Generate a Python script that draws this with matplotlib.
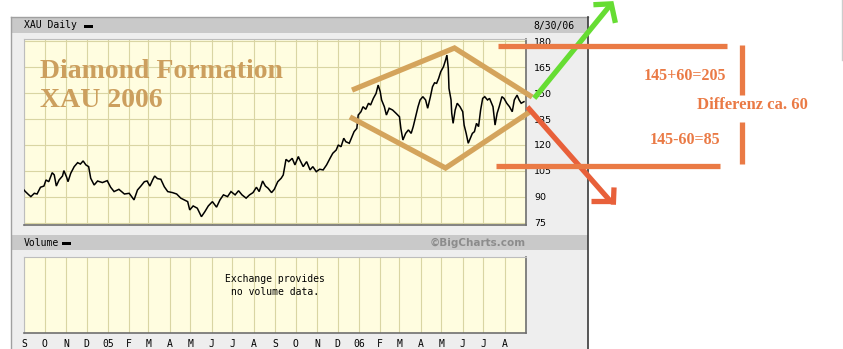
import numpy as np
import matplotlib
matplotlib.use("Agg")
import matplotlib.pyplot as plt
import matplotlib.dates as mdates

W, H = 843, 349

# XAU daily close: calendar days after 2004-09-01 and closing level
START = "2004-09-01"
days = [
    0, 2, 7, 10, 15, 19, 24, 29, 32, 36, 41, 44, 47, 51, 56, 58, 62, 64, 68, 73,
    78, 82, 86, 90, 94, 97, 102, 107, 114, 121, 126, 131, 138, 146, 153, 160,
    165, 170, 175, 179, 183, 187, 190, 194, 199, 204, 209, 216, 222, 228, 233,
    238, 241, 246, 252, 258, 263, 268, 274, 280, 285, 290, 296, 301, 307, 312,
    317, 323, 328, 333, 338, 342, 347, 351, 355, 360, 364, 369, 374, 377, 381,
    385, 390, 394, 399, 400, 406, 411, 416, 420, 425, 430, 435, 440, 445, 449,
    454, 457, 461, 465, 468, 473, 477, 480, 484, 486, 490, 493, 497, 501, 504,
    508, 512, 515, 518, 520, 524, 527, 531, 536, 541, 546, 548, 551, 555, 559,
    563, 566, 570, 573, 576, 580, 584, 587, 591, 594, 597, 600, 603, 606, 610,
    613, 615, 617, 618, 621, 622, 624, 627, 630, 634, 638, 640, 643, 646, 649,
    652, 655, 658, 661, 664, 667, 670, 674, 677, 682, 685, 688, 691, 695, 698,
    702, 706, 710, 713, 717, 720, 723, 727,
]
close = [
    94.0, 93.1, 91.2, 90.2, 92.1, 91.7, 95.6, 96.3, 99.8, 98.8, 104.0, 102.7,
    96.3, 99.8, 102.1, 105.2, 101.4, 98.8, 103.7, 107.5, 109.8, 109.0, 110.8,
    108.5, 107.5, 100.8, 96.9, 99.2, 98.3, 99.4, 95.6, 93.1, 94.4, 91.7, 92.1,
    88.3, 94.0, 96.3, 98.8, 99.2, 96.3, 99.8, 102.1, 100.6, 100.2, 95.9, 93.1,
    92.5, 91.7, 89.3, 88.3, 87.3, 82.5, 84.8, 83.5, 78.6, 81.5, 84.8, 87.3,
    84.1, 88.3, 91.2, 90.2, 93.1, 91.2, 93.6, 91.2, 89.3, 91.2, 92.5, 95.6,
    93.1, 99.2, 96.3, 95.0, 92.5, 94.4, 98.8, 100.8, 102.7, 111.7, 110.4,
    112.3, 108.5, 113.3, 112.3, 107.5, 110.4, 105.6, 107.5, 104.6, 106.0,
    105.6, 108.5, 112.3, 115.2, 117.1, 120.0, 119.0, 123.9, 121.9, 121.0,
    124.8, 127.7, 129.6, 137.3, 139.2, 142.1, 140.6, 144.1, 143.1, 146.9,
    149.8, 154.6, 150.8, 146.0, 142.1, 137.3, 141.2, 140.2, 138.3, 136.3,
    129.6, 122.9, 126.7, 128.7, 126.7, 130.6, 137.3, 142.1, 146.0, 147.9,
    146.0, 141.2, 147.9, 153.6, 155.9, 155.6, 158.5, 162.3, 165.2, 169.0,
    171.9, 164.2, 152.7, 146.0, 138.3, 132.5, 140.2, 144.1, 142.1, 139.2,
    131.5, 126.7, 121.0, 123.9, 126.7, 127.7, 132.5, 130.6, 140.2, 146.9,
    147.9, 146.0, 146.9, 142.1, 131.5, 138.3, 142.1, 147.9, 146.9, 144.1,
    142.1, 139.2, 146.0, 148.8, 146.0, 144.1, 145.0,
]

price_ticks = [75, 90, 105, 120, 135, 150, 165, 180]
month_labels = ["S", "O", "N", "D", "05", "F", "M", "A", "M", "J", "J", "A",
                "S", "O", "N", "D", "06", "F", "M", "A", "M", "J", "J", "A"]

# hand-drawn diamond pattern and breakout targets (date, price)
diamond_upper = [("2005-12-22", 151.7), ("2006-05-20", 176.0), ("2006-09-10", 147.7)]
diamond_lower = [("2005-12-19", 136.2), ("2006-05-07", 106.7), ("2006-09-06", 139.0)]
up_shaft = [("2006-09-13", 147.0), ("2007-01-02", 201.0)]
up_head = [("2006-12-08", 201.0), ("2007-01-03", 201.5), ("2007-01-09", 190.5)]
down_shaft = [("2006-09-03", 142.0), ("2007-01-03", 87.0)]
down_head_h = [("2006-12-05", 87.5), ("2007-01-05", 87.5)]
down_head_v = [("2007-01-07", 95.5), ("2007-01-06", 85.5)]
level_hi = [("2006-07-23", 177.1), ("2007-06-20", 177.1)]
level_lo = [("2006-07-20", 107.9), ("2007-06-10", 107.9)]
bracket_hi = [("2007-07-12", 177.7), ("2007-07-12", 148.8)]
bracket_lo = [("2007-07-12", 133.3), ("2007-07-12", 109.0)]

PANEL = "#eeeeee"
BAR = "#c9c9c9"
PLOT_BG = "#fffde0"
GRID = "#d9d5a3"
TAN = "#d4a45c"
TITLE_TAN = "#cc9f5e"
ORANGE = "#ea7a45"
RED_ORANGE = "#e8603a"
GREEN = "#66dd33"
MONO = "DejaVu Sans Mono"


def px_axes(fig, x0, y0, x1, y1):
    """Axes placed by pixel box (top-left origin)."""
    return fig.add_axes([x0 / W, 1 - y1 / H, (x1 - x0) / W, (y1 - y0) / H])


def to_xy(pts):
    xs = [mdates.datestr2num(d) for d, _ in pts]
    ys = [v for _, v in pts]
    return xs, ys


fig = plt.figure(figsize=(W / 100, H / 100), dpi=100)
fig.patch.set_facecolor("white")

# page furniture: gray frame, header bar, volume bar
bg = fig.add_axes([0, 0, 1, 1], zorder=0)
bg.set_xlim(0, W)
bg.set_ylim(H, 0)
bg.axis("off")
bg.add_patch(plt.Rectangle((11, 17), 577, 340, facecolor=PANEL, edgecolor="none"))
bg.add_patch(plt.Rectangle((11, 17), 577, 16, facecolor=BAR, edgecolor="none"))
bg.add_patch(plt.Rectangle((11, 235), 577, 15, facecolor=BAR, edgecolor="none"))
bg.plot([11, 11], [17, H], color="#a0a0a0", lw=1)
bg.plot([11, 588], [17, 17], color="#a0a0a0", lw=1)
bg.plot([588, 588], [17, H], color="#3a3a3a", lw=1.2)
bg.plot([842, 842], [0, 60], color="#cccccc", lw=1)
bg.text(24, 25.5, "XAU Daily", family=MONO, fontsize=7, va="center", ha="left")
bg.add_patch(plt.Rectangle((84, 25), 9, 2.5, facecolor="black"))
bg.text(575, 25.5, "8/30/06", family=MONO, fontsize=7, va="center", ha="right")
bg.text(24, 243, "Volume", family=MONO, fontsize=7, va="center", ha="left")
bg.add_patch(plt.Rectangle((62, 242), 9, 2.5, facecolor="black"))
bg.text(526, 242.5, "©BigCharts.com", fontsize=7.5, fontweight="bold",
        color="#8c8c8c", va="center", ha="right")

x_lo = mdates.datestr2num("2004-09-01")
x_hi = mdates.datestr2num("2006-09-01")
month_locator = mdates.MonthLocator()
trade_x = mdates.datestr2num(START) + np.array(days, dtype=float)

# price panel
ax = px_axes(fig, 24, 39, 526, 225)
ax.set_zorder(1)
ax.set_facecolor(PLOT_BG)
ax.plot(trade_x, close, color="black", lw=1.1, zorder=3,
        solid_joinstyle="miter")
ax.set_xlim(x_lo, x_hi)
ax.set_ylim(73.8, 181.2)
ax.xaxis.set_major_locator(month_locator)
ax.set_yticks(price_ticks)
ax.grid(True, color=GRID, lw=0.8)
ax.tick_params(axis="x", length=0, labelbottom=False)
ax.tick_params(axis="y", length=0, left=False, labelleft=False,
               labelright=True, pad=6, labelsize=6.8)
for lab in ax.get_yticklabels():
    lab.set_horizontalalignment("left")
for side in ["top", "left"]:
    ax.spines[side].set_color("#bdbdbd")
for side in ["bottom", "right"]:
    ax.spines[side].set_color("#6f6f6f")
    ax.spines[side].set_linewidth(1.2)

ax.text(0.032, 0.823, "Diamond Formation", transform=ax.transAxes,
        family="Liberation Serif", fontweight="bold", fontsize=20,
        color=TITLE_TAN, va="center", ha="left", zorder=4)
ax.text(0.032, 0.668, "XAU 2006", transform=ax.transAxes,
        family="Liberation Serif", fontweight="bold", fontsize=20,
        color=TITLE_TAN, va="center", ha="left", zorder=4)

# volume panel (no data)
vax = px_axes(fig, 24, 257, 526, 333)
vax.set_zorder(1)
vax.set_facecolor(PLOT_BG)
vax.set_xlim(x_lo, x_hi)
vax.set_ylim(0, 1)
vax.xaxis.set_major_locator(month_locator)
vax.xaxis.set_major_formatter(
    matplotlib.ticker.FuncFormatter(
        lambda v, pos: month_labels[pos] if pos is not None and pos < len(month_labels) else ""))
vax.grid(True, axis="x", color=GRID, lw=0.8)
vax.set_yticks([])
vax.tick_params(axis="x", length=0, pad=4)
for lab in vax.get_xticklabels():
    lab.set_family(MONO)
    lab.set_fontsize(7)
for side in ["top", "left"]:
    vax.spines[side].set_color("#bdbdbd")
for side in ["bottom", "right"]:
    vax.spines[side].set_color("#6f6f6f")
    vax.spines[side].set_linewidth(1.2)
vax.text(0.5, 0.78, "Exchange provides\nno volume data.", transform=vax.transAxes,
         family=MONO, fontsize=7, ha="center", va="top", linespacing=1.35)

# diamond and breakout annotations on top of everything
ov = fig.add_axes(ax.get_position(), zorder=5)
ov.set_xlim(ax.get_xlim())
ov.set_ylim(ax.get_ylim())
ov.axis("off")
ov.patch.set_alpha(0)


def stroke(pts, color, lw=3.8):
    xs, ys = to_xy(pts)
    ov.plot(xs, ys, color=color, lw=lw, clip_on=False,
            solid_capstyle="butt", solid_joinstyle="miter")


stroke(diamond_upper, TAN)
stroke(diamond_lower, TAN)
stroke(up_shaft, GREEN)
stroke(up_head, GREEN)
stroke(down_shaft, RED_ORANGE)
stroke(down_head_h, RED_ORANGE)
stroke(down_head_v, RED_ORANGE)
stroke(level_hi, ORANGE)
stroke(level_lo, ORANGE)
stroke(bracket_hi, ORANGE)
stroke(bracket_lo, ORANGE)

note = dict(family="Liberation Serif", fontweight="bold", color=ORANGE,
            ha="center", va="center", clip_on=False)
ov.text(mdates.datestr2num("2007-04-20"), 159.8, "145+60=205", fontsize=11.5, **note)
ov.text(mdates.datestr2num("2007-07-28"), 143.1, "Differenz ca. 60", fontsize=12, **note)
ov.text(mdates.datestr2num("2007-04-20"), 122.9, "145-60=85", fontsize=11.5, **note)

fig.savefig("out.png", dpi=100, facecolor="white")
